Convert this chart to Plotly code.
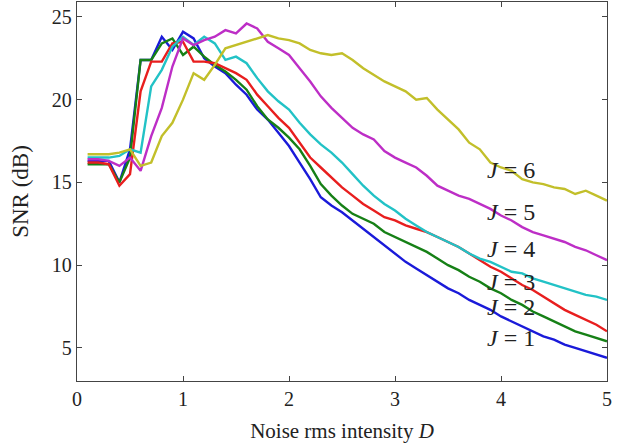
import plotly.graph_objects as go

D = [round(0.1 * i, 1) for i in range(1, 51)]

snr_j1 = [16.3, 16.3, 16.3, 15.0, 17.0, 22.4, 22.4, 23.8, 23.0, 24.1,
          23.7, 22.5, 22.0, 21.6, 20.9, 20.3, 19.4, 18.8, 18.0, 17.2,
          16.2, 15.2, 14.1, 13.6, 13.2, 12.7, 12.2, 11.7, 11.2, 10.7,
          10.2, 9.8, 9.4, 9.0, 8.6, 8.3, 7.9, 7.6, 7.3, 6.9,
          6.6, 6.3, 6.0, 5.7, 5.5, 5.2, 5.0, 4.8, 4.6, 4.4]
snr_j2 = [16.1, 16.1, 16.1, 15.0, 16.5, 22.4, 22.4, 23.4, 23.7, 22.7,
          23.2, 22.6, 22.1, 21.7, 21.2, 20.6, 19.6, 18.8, 18.3, 17.7,
          17.0, 16.0, 14.9, 14.2, 13.6, 13.1, 12.8, 12.5, 12.0, 11.7,
          11.4, 11.1, 10.8, 10.4, 10.0, 9.7, 9.3, 9.0, 8.6, 8.3,
          7.9, 7.6, 7.2, 6.9, 6.6, 6.3, 6.0, 5.8, 5.6, 5.4]
snr_j3 = [16.2, 16.2, 16.1, 14.8, 15.5, 20.5, 22.3, 22.3, 23.4, 23.5,
          22.3, 22.3, 22.2, 21.9, 21.6, 21.2, 20.3, 19.6, 18.9, 18.3,
          17.4, 16.5, 15.9, 15.3, 14.7, 14.2, 13.7, 13.3, 12.9, 12.7,
          12.4, 12.2, 12.0, 11.7, 11.4, 11.1, 10.7, 10.3, 9.9, 9.6,
          9.2, 8.8, 8.5, 8.1, 7.7, 7.3, 7.0, 6.7, 6.4, 6.0]
snr_j4 = [16.5, 16.5, 16.5, 16.6, 17.0, 16.8, 20.8, 21.8, 23.2, 23.8,
          23.3, 23.8, 23.4, 22.4, 22.6, 22.2, 21.3, 20.5, 19.9, 19.4,
          18.6, 17.9, 17.3, 16.8, 16.2, 15.5, 14.8, 14.2, 13.7, 13.3,
          12.8, 12.4, 12.0, 11.7, 11.4, 11.1, 10.7, 10.4, 10.2, 9.9,
          9.6, 9.5, 9.2, 9.0, 8.8, 8.6, 8.4, 8.2, 8.1, 7.9]
snr_j5 = [16.4, 16.4, 16.3, 16.0, 16.5, 15.7, 17.8, 19.5, 22.0, 23.7,
          23.3, 23.6, 23.8, 24.2, 24.0, 24.6, 24.3, 23.5, 23.1, 22.7,
          21.9, 21.1, 20.2, 19.5, 18.9, 18.3, 17.9, 17.6, 16.9, 16.5,
          16.2, 15.9, 15.4, 14.8, 14.5, 14.2, 14.0, 13.7, 13.4, 13.0,
          12.7, 12.3, 12.0, 11.8, 11.6, 11.4, 11.1, 10.9, 10.6, 10.3]
snr_j6 = [16.7, 16.7, 16.7, 16.8, 17.0, 16.0, 16.2, 17.8, 18.6, 20.0,
          21.6, 21.2, 22.1, 23.1, 23.3, 23.5, 23.7, 23.9, 23.7, 23.6,
          23.4, 23.0, 22.8, 22.7, 22.8, 22.4, 21.9, 21.5, 21.1, 20.8,
          20.5, 20.0, 20.1, 19.4, 18.8, 18.2, 17.4, 17.0, 16.2, 15.9,
          15.7, 15.2, 15.0, 14.9, 14.7, 14.6, 14.3, 14.5, 14.2, 13.9]

series = [snr_j1, snr_j2, snr_j3, snr_j4, snr_j5, snr_j6]
colors = ["#1a1ad9", "#168016", "#e81e1e", "#22c2c6", "#bd2ec6", "#c2bf2a"]
j_labels = ["1", "2", "3", "4", "5", "6"]
label_x = [3.85, 3.85, 3.85, 3.85, 3.85, 3.85]
label_y = [5.6, 7.5, 9.0, 10.95, 13.2, 15.75]

x_ticks = [0, 1, 2, 3, 4, 5]
y_ticks = [5, 10, 15, 20, 25]

fig = go.Figure()
for vals, col in zip(series, colors):
    fig.add_trace(go.Scatter(x=D, y=vals, mode="lines",
                             line=dict(color=col, width=2.4), showlegend=False))

for lbl, lx, ly in zip(j_labels, label_x, label_y):
    fig.add_annotation(x=lx, y=ly, text="<i>J</i> = " + lbl, showarrow=False,
                       xanchor="left", yanchor="middle",
                       font=dict(family="Liberation Serif", size=24, color="#222"))

axis_common = dict(showline=True, linecolor="#444", linewidth=1.3, mirror="ticks",
                   ticks="inside", ticklen=5, tickcolor="#444", showgrid=False,
                   zeroline=False, automargin=False,
                   tickfont=dict(family="Liberation Serif", size=20, color="#222"))

fig.update_layout(
    width=628, height=448,
    margin=dict(l=77, r=21, t=2, b=67),
    plot_bgcolor="white", paper_bgcolor="white",
    xaxis=dict(range=[0, 5], tickvals=x_ticks,
               title=dict(text="Noise rms intensity <i>D</i>", standoff=14,
                          font=dict(family="Liberation Serif", size=21, color="#222")),
               **axis_common),
    yaxis=dict(range=[3, 25.9], tickvals=y_ticks,
               title=dict(text="SNR (dB)", standoff=16,
                          font=dict(family="Liberation Serif", size=23, color="#222")),
               **axis_common),
)

fig.write_html("out.html", config={"displayModeBar": False},
               post_script="document.body.style.margin='0';")
